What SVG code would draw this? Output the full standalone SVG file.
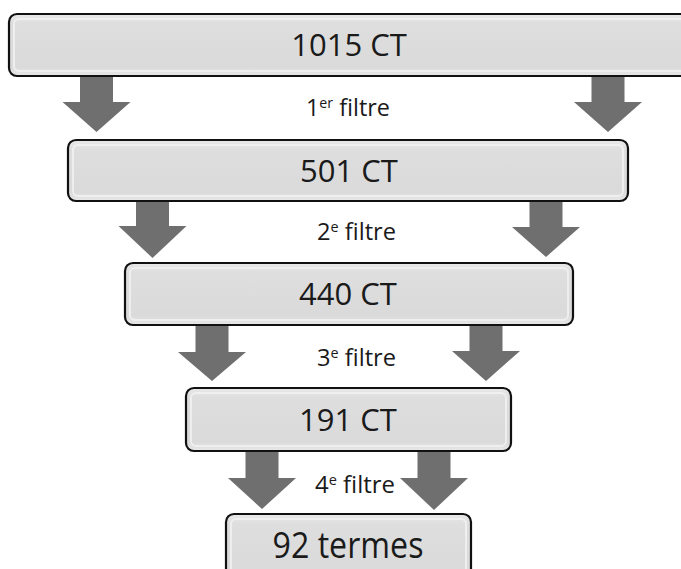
<svg xmlns="http://www.w3.org/2000/svg" width="681" height="569" viewBox="0 0 681 569">
<defs>
<linearGradient id="boxg" x1="0" y1="0" x2="0" y2="1">
<stop offset="0" stop-color="#e9e9e9"/>
<stop offset="0.15" stop-color="#dedede"/>
<stop offset="0.85" stop-color="#dadada"/>
<stop offset="1" stop-color="#e8e8e8"/>
</linearGradient>
</defs>
<style>
.box{fill:url(#boxg);stroke:#111;stroke-width:2.2}
.inner{fill:none;stroke:#f2f2f2;stroke-width:2;opacity:0.8}
.arr{fill:#6f6f6f}
.bt{font-family:"Open Sans","Liberation Sans",sans-serif;font-size:31px;fill:#1a1a1a;text-anchor:middle}
.lb{font-family:"Open Sans","Liberation Sans",sans-serif;font-size:23px;fill:#1a1a1a}
.sup{font-size:14px}
</style>
<rect width="681" height="569" fill="#fff"/>
<g id="connectors">
<polygon class="arr" points="80,76 113,76 113,102 130.5,102 96.5,132 62.5,102 80,102"/>
<polygon class="arr" points="591.5,76 624.5,76 624.5,102 642,102 608,132 574,102 591.5,102"/>
<polygon class="arr" points="136,201 169,201 169,226 186.5,226 152.5,258 118.5,226 136,226"/>
<polygon class="arr" points="529.5,201 562.5,201 562.5,227 580,227 546,257 512,227 529.5,227"/>
<polygon class="arr" points="195.5,325 228.5,325 228.5,352 246,352 212,381 178,352 195.5,352"/>
<polygon class="arr" points="469.5,325 502.5,325 502.5,351 520,351 486,381 452,351 469.5,351"/>
<polygon class="arr" points="245.5,451 278.5,451 278.5,478 296,478 262,509 228,478 245.5,478"/>
<polygon class="arr" points="417.5,451 450.5,451 450.5,478 468,478 434,510 400,478 417.5,478"/>
</g>
<g id="node1">
<rect class="box" x="9" y="14" width="690" height="62" rx="8"/>
<rect class="inner" x="14" y="19" width="680" height="52" rx="5"/>
<text class="bt" x="349" y="56">1015 CT</text>
</g>
<g id="node2">
<rect class="box" x="68" y="140" width="560" height="61" rx="8"/>
<rect class="inner" x="73" y="145" width="550" height="51" rx="5"/>
<text class="bt" x="349" y="182">501 CT</text>
</g>
<g id="node3">
<rect class="box" x="125" y="263" width="448" height="62" rx="8"/>
<rect class="inner" x="130" y="268" width="438" height="52" rx="5"/>
<text class="bt" x="348" y="305">440 CT</text>
</g>
<g id="node4">
<rect class="box" x="186" y="388" width="325" height="63" rx="8"/>
<rect class="inner" x="191" y="393" width="315" height="53" rx="5"/>
<text class="bt" x="348" y="431">191 CT</text>
</g>
<g id="node5">
<rect class="box" x="226" y="514" width="245" height="70" rx="8"/>
<rect class="inner" x="231" y="519" width="235" height="60" rx="5"/>
<text class="bt" x="348" y="558" style="font-size:36px" textLength="151" lengthAdjust="spacingAndGlyphs">92 termes</text>
</g>
<g id="labels">
<text class="lb" x="306" y="116" textLength="84" lengthAdjust="spacingAndGlyphs">1<tspan class="sup" dy="-8">er</tspan><tspan dy="8"> filtre</tspan></text>
<text class="lb" x="317" y="240" textLength="79" lengthAdjust="spacingAndGlyphs">2<tspan class="sup" dy="-8">e</tspan><tspan dy="8"> filtre</tspan></text>
<text class="lb" x="317" y="366" textLength="79" lengthAdjust="spacingAndGlyphs">3<tspan class="sup" dy="-8">e</tspan><tspan dy="8"> filtre</tspan></text>
<text class="lb" x="315" y="493" textLength="80" lengthAdjust="spacingAndGlyphs">4<tspan class="sup" dy="-8">e</tspan><tspan dy="8"> filtre</tspan></text>
</g>
</svg>
